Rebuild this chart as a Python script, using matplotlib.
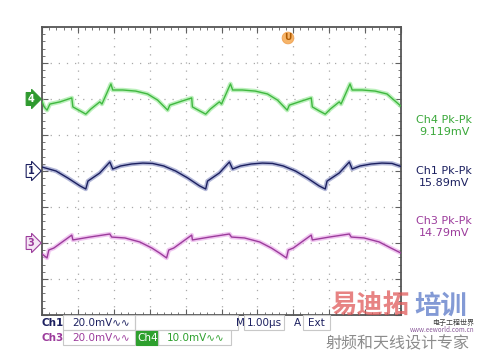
import matplotlib
matplotlib.use("Agg")
import matplotlib.pyplot as plt
import numpy as np

# time in us (1 us/div), values in mV relative to each channel marker
ch1_t = [0.00, 0.39, 0.72, 1.06, 1.22, 1.28, 1.61, 1.89, 1.97, 2.19, 2.50, 2.81, 3.08, 3.39,
         3.72, 4.06, 4.39, 4.56, 4.61, 4.94, 5.22, 5.31, 5.53, 5.83, 6.14, 6.42, 6.72, 7.06,
         7.39, 7.72, 7.89, 7.94, 8.28, 8.56, 8.64, 8.86, 9.17, 9.47, 9.75, 10.0]
ch1_mv = [2.2, 0.0, -3.9, -8.3, -10.0, -5.6, -1.1, 5.0, 1.1, 2.8, 3.9, 4.4, 4.2, 2.8,
          0.0, -3.9, -8.3, -10.0, -5.6, -1.1, 5.0, 1.1, 2.8, 3.9, 4.4, 4.2, 2.8, 0.0,
          -3.9, -8.3, -10.0, -5.6, -1.1, 5.0, 1.1, 2.8, 3.9, 4.4, 4.2, 2.5]

ch4_t = [0.00, 0.06, 0.14, 0.22, 0.50, 0.83, 0.86, 1.06, 1.22, 1.36, 1.61, 1.67, 1.92, 1.97,
         2.25, 2.61, 2.94, 3.22, 3.50, 3.56, 3.89, 4.17, 4.19, 4.39, 4.56, 4.69, 4.94, 5.00,
         5.25, 5.31, 5.58, 5.94, 6.28, 6.56, 6.83, 6.89, 7.22, 7.50, 7.53, 7.72, 7.89, 8.03,
         8.28, 8.33, 8.58, 8.64, 8.92, 9.28, 9.61, 10.0]
ch4_mv = [-0.6, -2.2, -3.1, -1.4, -0.8, 0.3, -2.2, -3.3, -4.2, -2.8, -0.8, -1.4, 4.2, 2.5,
          2.5, 2.2, 1.4, -0.3, -3.1, -1.7, -0.6, 0.3, -2.2, -3.3, -4.2, -2.8, -0.8, -1.4,
          4.2, 2.5, 2.5, 2.2, 1.4, -0.3, -3.1, -1.7, -0.6, 0.3, -2.2, -3.3, -4.2, -2.8,
          -0.8, -1.4, 4.2, 2.5, 2.5, 2.2, 1.4, -2.0]

ch3_t = [0.00, 0.14, 0.19, 0.33, 0.83, 0.86, 1.33, 1.89, 1.94, 2.31, 2.72, 3.06, 3.28, 3.47,
         3.53, 3.67, 4.17, 4.19, 4.67, 5.22, 5.28, 5.64, 6.06, 6.39, 6.61, 6.81, 6.86, 7.00,
         7.50, 7.53, 8.00, 8.56, 8.61, 8.97, 9.39, 9.72, 10.0]
ch3_mv = [-6.1, -8.3, -3.9, -2.8, 4.4, 1.7, 3.3, 5.0, 3.3, 2.8, 0.6, -2.8, -5.6, -8.3,
          -3.9, -2.8, 4.4, 1.7, 3.3, 5.0, 3.3, 2.8, 0.6, -2.8, -5.6, -8.3, -3.9, -2.8,
          4.4, 1.7, 3.3, 5.0, 3.3, 2.8, 0.6, -2.8, -5.6]

W, H = 478, 352


def fp(x, y):
    """pixel position -> figure fraction"""
    return x / W, 1 - y / H


fig = plt.figure(figsize=(W / 100, H / 100), dpi=100)
fig.patch.set_facecolor("white")
ax = fig.add_axes([42 / W, 37 / H, 359 / W, 288 / H])
ax.set_xlim(0, 10)
ax.set_ylim(-4, 4)

# graticule
for gx in range(1, 10):
    ax.axvline(gx, color="#a8a8a8", lw=0.9, ls=(0, (1, 5.5)), zorder=1)
for gy in range(-3, 4):
    ax.axhline(gy, color="#a8a8a8", lw=0.9, ls=(0, (1, 5.5)), zorder=1)
ax.set_xticks(range(11))
ax.set_yticks(range(-4, 5))
ax.set_xticks(np.arange(0, 10.01, 0.2), minor=True)
ax.set_yticks(np.arange(-4, 4.01, 0.2), minor=True)
ax.tick_params(which="both", direction="in", top=True, right=True,
               labelbottom=False, labelleft=False, color="#606060")
ax.tick_params(which="major", length=4)
ax.tick_params(which="minor", length=2.5)
for s in ax.spines.values():
    s.set_color("#555555")
    s.set_linewidth(1.3)

# traces: (time, mV, volts/div, offset div, glow, line)
traces = [
    (ch4_t, ch4_mv, 10.0, 2, "#a6eca6", "#40b840"),
    (ch1_t, ch1_mv, 20.0, 0, "#9aa0cc", "#1c2060"),
    (ch3_t, ch3_mv, 20.0, -2, "#ecb4ec", "#9c3c9c"),
]
for t, mv, vdiv, off, glow, col in traces:
    y = off + np.array(mv) / vdiv
    ax.plot(t, y, color=glow, lw=3.2, alpha=0.75, solid_joinstyle="round", zorder=2)
    ax.plot(t, y, color=col, lw=1.0, solid_joinstyle="round", zorder=3)

# channel markers on the left
markers = [("4", 99, "#2f9a2f", "white", "#2f9a2f"),
           ("1", 171, "white", "#1c2060", "#1c2060"),
           ("3", 243, "#f4e6f4", "#9c3c9c", "#9c3c9c")]
for lab, py, fc, tc, ec in markers:
    fig.text(*fp(31, py), lab, ha="center", va="center", fontsize=7, color=tc,
             fontweight="bold",
             bbox=dict(boxstyle="rarrow,pad=0.15", fc=fc, ec=ec, lw=0.8))

# trigger position marker
fig.text(*fp(288, 38), "U", ha="center", va="center", fontsize=6.5, color="#b05a00",
         fontweight="bold",
         bbox=dict(boxstyle="circle,pad=0.15", fc="#f6b56a", ec="#f0a050", lw=0.6))

# measurement readouts
readouts = [("Ch4 Pk-Pk", "9.119mV", 120, "#3aa83a"),
            ("Ch1 Pk-Pk", "15.89mV", 171, "#1c2060"),
            ("Ch3 Pk-Pk", "14.79mV", 221, "#9c3c9c")]
for head, val, py, col in readouts:
    fig.text(*fp(444, py), head, ha="center", va="center", fontsize=8, color=col)
    fig.text(*fp(444, py + 12), val, ha="center", va="center", fontsize=8, color=col)


# bottom status bar
def box(x0, x1, y0, y1, fc="none", ec="#c8c8c8"):
    fig.patches.append(plt.Rectangle((x0 / W, 1 - y1 / H), (x1 - x0) / W, (y1 - y0) / H,
                                     transform=fig.transFigure, fc=fc, ec=ec, lw=0.8))


box(63, 135, 315, 330)
box(135, 238, 315, 330)
box(244, 284, 315, 330)
box(303, 330, 315, 330)
box(63, 135, 330, 345)
box(136, 158, 331, 345, fc="#2ea02e", ec="#2ea02e")
box(158, 231, 330, 345)

fs = 7.5
fig.text(*fp(41, 323), "Ch1", ha="left", va="center", fontsize=fs, color="#1c2060", fontweight="bold")
fig.text(*fp(72, 323), "20.0mV\u223f\u223f", ha="left", va="center", fontsize=fs, color="#1c2060")
fig.text(*fp(236, 323), "M", ha="left", va="center", fontsize=fs, color="#1c2060")
fig.text(*fp(247, 323), "1.00\u00b5s", ha="left", va="center", fontsize=fs, color="#1c2060")
fig.text(*fp(294, 323), "A", ha="left", va="center", fontsize=fs, color="#1c2060")
fig.text(*fp(308, 323), "Ext", ha="left", va="center", fontsize=fs, color="#1c2060")
fig.text(*fp(41, 338), "Ch3", ha="left", va="center", fontsize=fs, color="#9c3c9c", fontweight="bold")
fig.text(*fp(72, 338), "20.0mV\u223f\u223f", ha="left", va="center", fontsize=fs, color="#9c3c9c")
fig.text(*fp(137, 338), "Ch4", ha="left", va="center", fontsize=fs, color="white")
fig.text(*fp(167, 338), "10.0mV\u223f\u223f", ha="left", va="center", fontsize=fs, color="#2ea02e")

# watermark
cjk = ["Noto Sans CJK SC", "DejaVu Sans"]
fig.text(*fp(330, 306), "易迪拓", ha="left", va="center", fontsize=19, color="#e05a5a",
         alpha=0.75, family=cjk, fontweight="bold")
fig.text(*fp(414, 306), "培训", ha="left", va="center", fontsize=19, color="#5a78c8",
         alpha=0.75, family=cjk, fontweight="bold")
fig.text(*fp(474, 323), "电子工程世界", ha="right", va="center", fontsize=5, color="#404040",
         family=cjk)
fig.text(*fp(474, 330.5), "www.eeworld.com.cn", ha="right", va="center", fontsize=4.5,
         color="#8a5a9a", family=cjk)
fig.text(*fp(325, 344), "射频和天线设计专家", ha="left", va="center", fontsize=11.5,
         color="#8c8c8c", family=cjk)

fig.savefig("out.png", dpi=100)
